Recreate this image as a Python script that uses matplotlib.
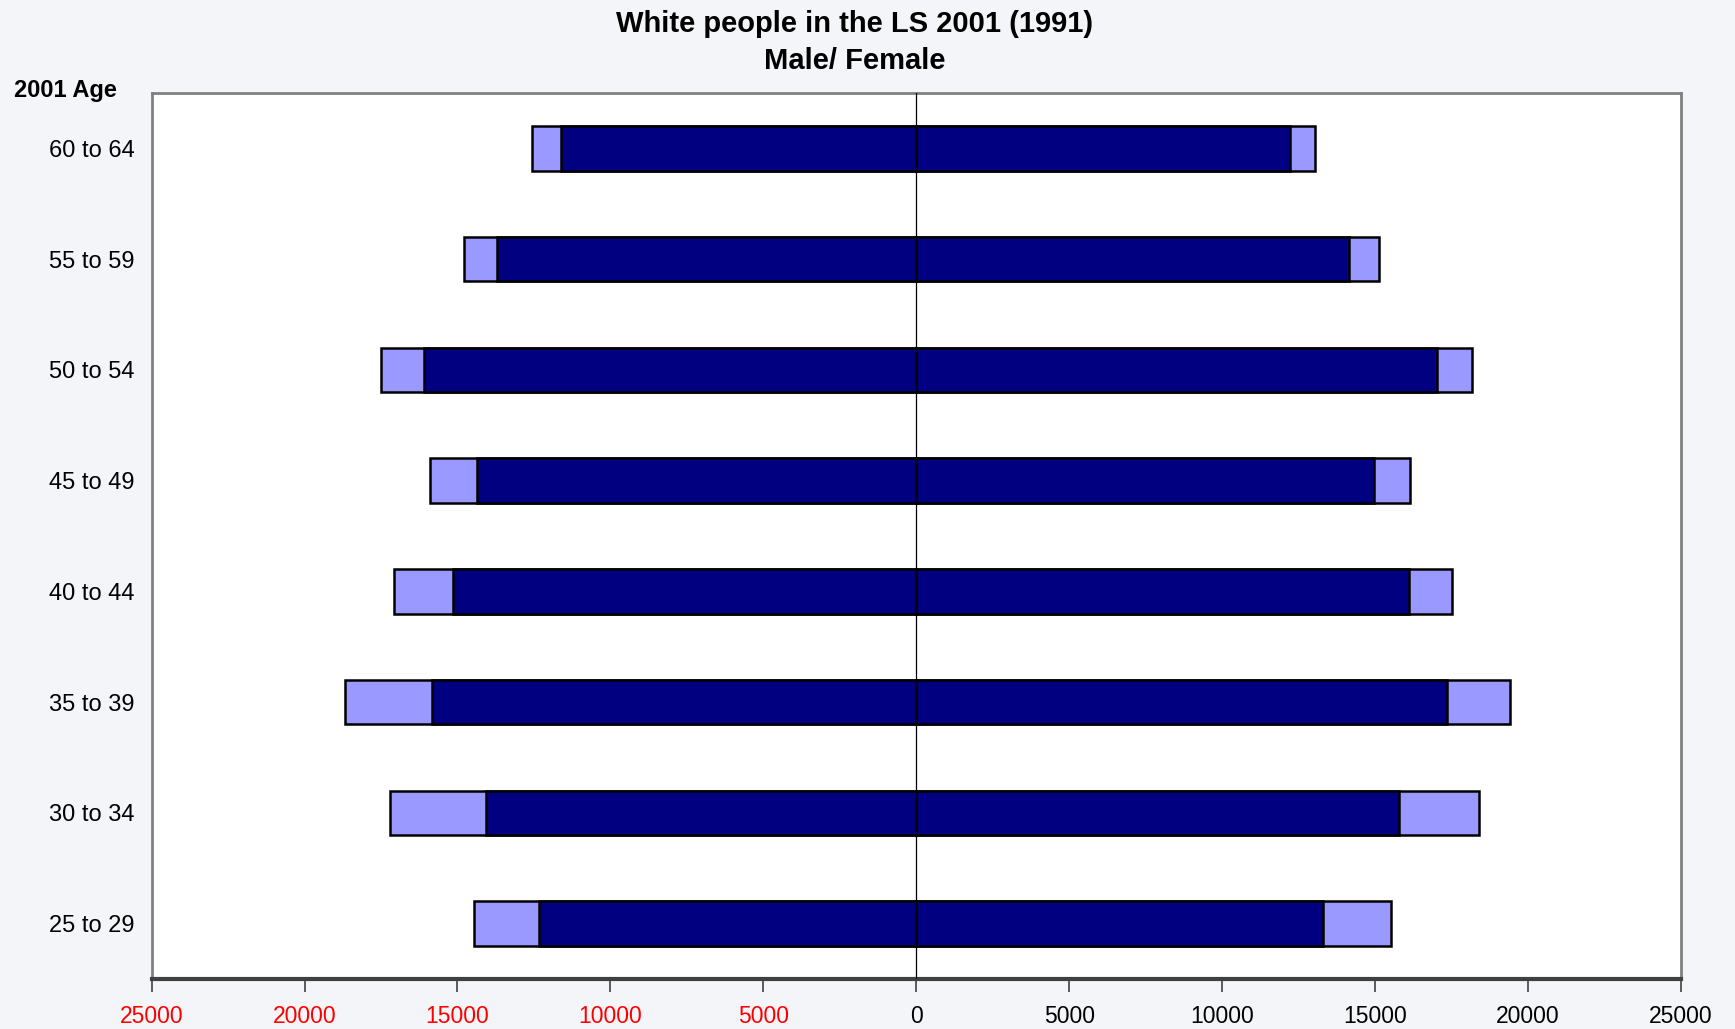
import matplotlib
matplotlib.use("Agg")
import matplotlib.pyplot as plt
from matplotlib.ticker import FixedLocator, FuncFormatter

ages = ["25 to 29", "30 to 34", "35 to 39", "40 to 44", "45 to 49", "50 to 54", "55 to 59", "60 to 64"]
male_2001 = [12345, 14067, 15822, 15159, 14363, 16095, 13698, 11625]
male_1991 = [14468, 17204, 18676, 17077, 15883, 17501, 14787, 12554]
female_2001 = [13292, 15796, 17345, 16100, 14979, 17020, 14163, 12223]
female_1991 = [15514, 18401, 19414, 17511, 16136, 18165, 15124, 13051]
xticks = [-25000, -20000, -15000, -10000, -5000, 0, 5000, 10000, 15000, 20000, 25000]

plt.rcParams['font.family'] = ['Liberation Sans', 'DejaVu Sans']

fig = plt.figure(figsize=(17.35, 10.29), dpi=100)
fig.patch.set_facecolor('#f3f5f8')
ax = fig.add_axes([0.0874, 0.0486, 0.9688 - 0.0874, 0.9096 - 0.0486])
ax.set_facecolor('white')

y = list(range(len(ages)))
h = 0.4
light = '#9999FF'
dark = '#000080'
ax.barh(y, [-v for v in male_1991], height=h, color=light, edgecolor='black', linewidth=1.8, zorder=2)
ax.barh(y, female_1991, height=h, color=light, edgecolor='black', linewidth=1.8, zorder=2)
ax.barh(y, [-v for v in male_2001], height=h, color=dark, edgecolor='black', linewidth=1.8, zorder=3)
ax.barh(y, female_2001, height=h, color=dark, edgecolor='black', linewidth=1.8, zorder=3)
ax.axvline(0, color='black', linewidth=0.9, zorder=4)

ax.set_xlim(-25000, 25000)
ax.set_ylim(-0.5, len(ages) - 0.5)
ax.xaxis.set_major_locator(FixedLocator(xticks))
ax.xaxis.set_major_formatter(FuncFormatter(lambda v, p: f"{abs(int(v))}"))
ax.set_yticks(y)
ax.set_yticklabels(ages)

ax.tick_params(axis='x', direction='out', length=9, width=1.2, color='#404040', pad=10, labelsize=16.5)
ax.tick_params(axis='y', length=0, pad=12, labelsize=17)
for lab, v in zip(ax.get_xticklabels(), xticks):
    lab.set_color('red' if v < 0 else 'black')

for s in ['left', 'right', 'top']:
    ax.spines[s].set_color('#808080')
    ax.spines[s].set_linewidth(2)
ax.spines['bottom'].set_color('#404040')
ax.spines['bottom'].set_linewidth(3)

fig.text(0.4925, 1 - 24 / 1029, "White people in the LS 2001 (1991)", ha='center', va='center',
         fontsize=21, fontweight='bold')
fig.text(0.4925, 1 - 61 / 1029, "Male/ Female", ha='center', va='center',
         fontsize=21, fontweight='bold')
fig.text(14 / 1735, 1 - 90 / 1029, "2001 Age", ha='left', va='center', fontsize=17, fontweight='bold')

fig.savefig("out.png", dpi=100, facecolor=fig.get_facecolor())
